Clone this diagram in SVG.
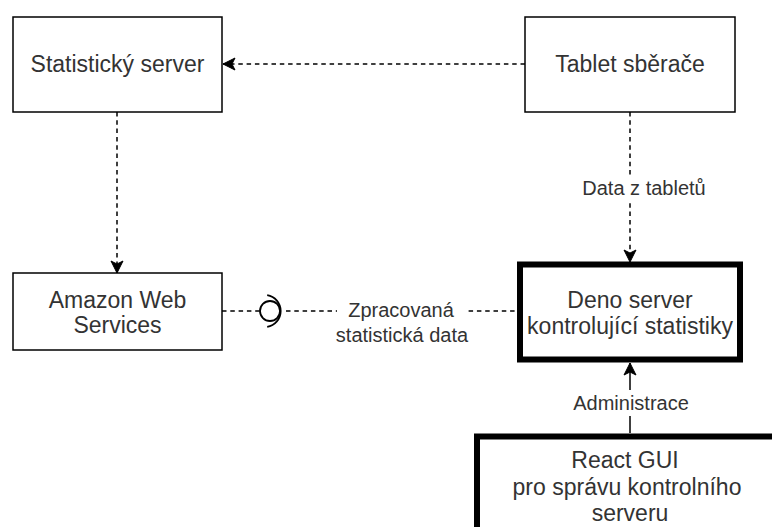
<svg xmlns="http://www.w3.org/2000/svg" width="772" height="527" viewBox="0 0 772 527">
<style>
.box{fill:#fff;stroke:#000;stroke-width:1.5}
.thick{fill:#fff;stroke:#000;stroke-width:6}
.t{font-family:"Liberation Sans",Arial,sans-serif;font-size:23px;fill:#333;text-anchor:middle}
.lbl{font-family:"Liberation Sans",Arial,sans-serif;font-size:20px;fill:#333;text-anchor:middle}
.dash{fill:none;stroke:#000;stroke-width:1.5;stroke-dasharray:4.5 3.8}
.solid{fill:none;stroke:#000;stroke-width:1.5}
</style>
<defs>
<marker id="arr" markerUnits="userSpaceOnUse" viewBox="-13 -7 14 14" markerWidth="14" markerHeight="14" refX="0" refY="0" orient="auto">
<path d="M -12 -6 L 0 0 L -12 6 L -9 0 Z" fill="#000" stroke="#000" stroke-width="1" stroke-dasharray="none"/>
</marker>
</defs>
<g id="connectors">
<path class="dash" d="M 525 64 L 223 64" marker-end="url(#arr)"/>
<path class="dash" d="M 117 112 L 117 273" marker-end="url(#arr)"/>
<path class="dash" d="M 630 112 L 630 262" marker-end="url(#arr)"/>
<path class="dash" d="M 222 311 L 260 311"/>
<path class="dash" d="M 286 311 L 517 311"/>
<circle cx="270" cy="311" r="10" fill="#fff" stroke="#000" stroke-width="1.8"/>
<path d="M 267.2 295.2 A 16 16 0 0 1 267.2 326.8" fill="none" stroke="#000" stroke-width="1.8"/>
<path class="solid" d="M 630 433 L 630 363" marker-end="url(#arr)"/>
<g id="label-data">
<rect x="578" y="176" width="132" height="24" fill="#fff"/>
<text class="lbl" x="644" y="195">Data z tabletů</text>
</g>
<g id="label-zpracovana">
<rect x="337" y="298" width="128" height="24" fill="#fff"/>
<text class="lbl" x="401" y="317">Zpracovaná</text>
<text class="lbl" x="402" y="342">statistická data</text>
</g>
<g id="label-admin">
<rect x="570" y="390" width="122" height="26" fill="#fff"/>
<text class="lbl" x="631" y="410">Administrace</text>
</g>
</g>
<g id="statisticky-server">
<rect class="box" x="13" y="17" width="209" height="95"/>
<text class="t" x="117.5" y="72">Statistický server</text>
</g>
<g id="tablet-sberace">
<rect class="box" x="525" y="17" width="210" height="95"/>
<text class="t" x="630" y="72">Tablet sběrače</text>
</g>
<g id="amazon">
<rect class="box" x="13" y="273" width="209" height="77"/>
<text class="t" x="117.5" y="308">Amazon Web</text>
<text class="t" x="117.5" y="333">Services</text>
</g>
<g id="deno-server">
<rect class="thick" x="520" y="264.5" width="220" height="95"/>
<text class="t" x="630" y="308">Deno server</text>
<text class="t" x="630" y="334">kontrolující statistiky</text>
</g>
<g id="react-gui">
<rect class="thick" x="477" y="436.5" width="400" height="200"/>
<text class="t" x="625" y="468">React GUI</text>
<text class="t" x="627" y="495">pro správu kontrolního</text>
<text class="t" x="630" y="521">serveru</text>
</g>
</svg>
